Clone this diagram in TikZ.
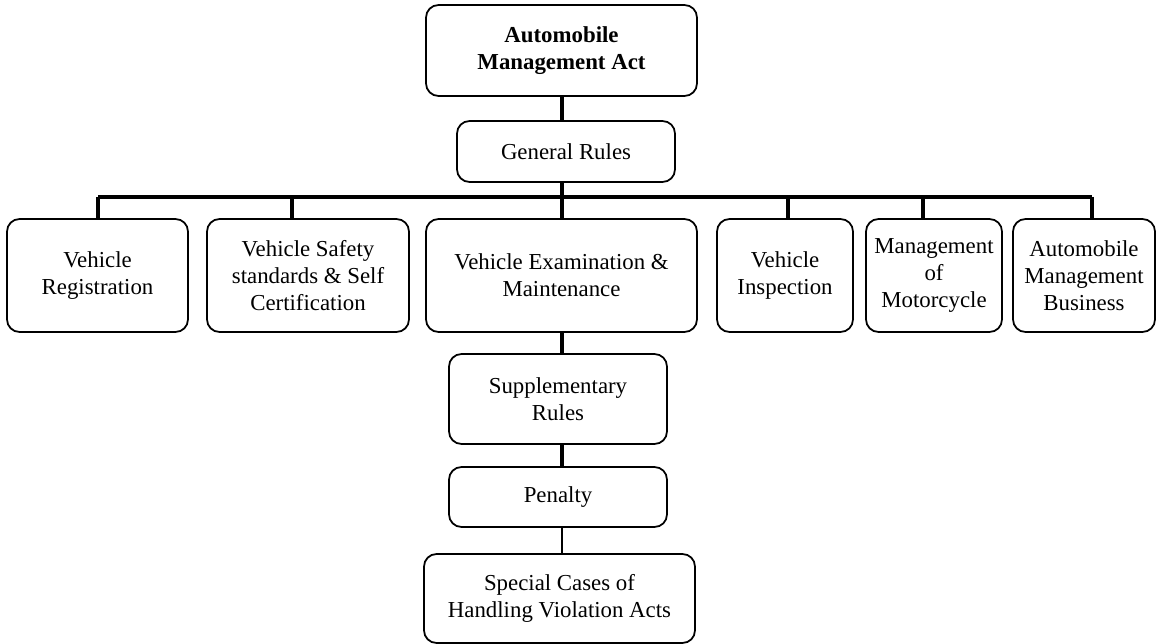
\documentclass[tikz,border=0pt]{standalone}
\usepackage{fontspec}
\setmainfont{Liberation Serif}
\usetikzlibrary{calc,positioning}

\tikzset{
  box/.style={draw, line width=1pt, rounded corners=0.25cm, align=center,
    inner sep=0pt, font=\fontsize{13}{15.3}\selectfont},
  rowbox/.style={box, minimum height=2.26cm},
  link/.style={line width=1.9pt}
}

\begin{document}
\begin{tikzpicture}[x=0.02cm,y=-0.02cm]
        \useasboundingbox (0,0) rectangle (1158,644);
        \coordinate (S) at (562,0);
        \coordinate (busL) at (98,197);
        \coordinate (busR) at (1092,197);

        \node[box, minimum width=5.42cm, minimum height=1.82cm,
          font=\fontsize{13}{15.3}\selectfont\bfseries] (act) at (561.5,50.5) {Automobile\\Management Act};
        \node[box, minimum width=4.36cm, minimum height=1.22cm] (gen) at (566,151.5) {General Rules};

        \node[rowbox, minimum width=3.62cm] (reg) at (97.5,275.5) {Vehicle\\Registration};
        \node[rowbox, minimum width=4.04cm] (saf) at (308,275.5) {Vehicle Safety\\standards \& Self\\Certification};
        \node[rowbox, minimum width=5.42cm] (exa) at (561.5,275.5) {Vehicle Examination \&\\Maintenance};
        \node[rowbox, minimum width=2.72cm] (ins) at (785,275.5) {Vehicle\\Inspection};
        \node[rowbox, minimum width=2.72cm] (mot) at (934,275.5) {Management\\of\\Motorcycle};
        \node[rowbox, minimum width=2.84cm] (bus) at (1084,275.5) {Automobile\\Management\\Business};

        \node[box, minimum width=4.36cm, minimum height=1.80cm] (sup) at (558,399) {Supplementary\\Rules};
        \node[box, minimum width=4.36cm, minimum height=1.20cm] (pen) at (558,497) {Penalty};
        \node[box, minimum width=5.42cm, minimum height=1.78cm] (spc) at (559.5,598.5) {Special Cases of\\Handling Violation Acts};

        \draw[link] (act.south -| S) -- (gen.north -| S);
        \draw[link] (gen.south -| S) -- (S |- busL);
        \draw[link] (busL) -- (busR);

        \foreach \v/\u in {reg/98, saf/292, exa/562, ins/788, mot/923, bus/1092}
            {
                \coordinate (d\v) at (\u,197);
                \draw[link] (d\v) -- (d\v |- \v.north);
            };

        \draw[link] (exa.south -| S) -- (sup.north -| S);
        \draw[link] (sup.south -| S) -- (pen.north -| S);
        \draw[line width=1.3pt] (pen.south -| S) -- (spc.north -| S);
    \end{tikzpicture}
\end{document}
